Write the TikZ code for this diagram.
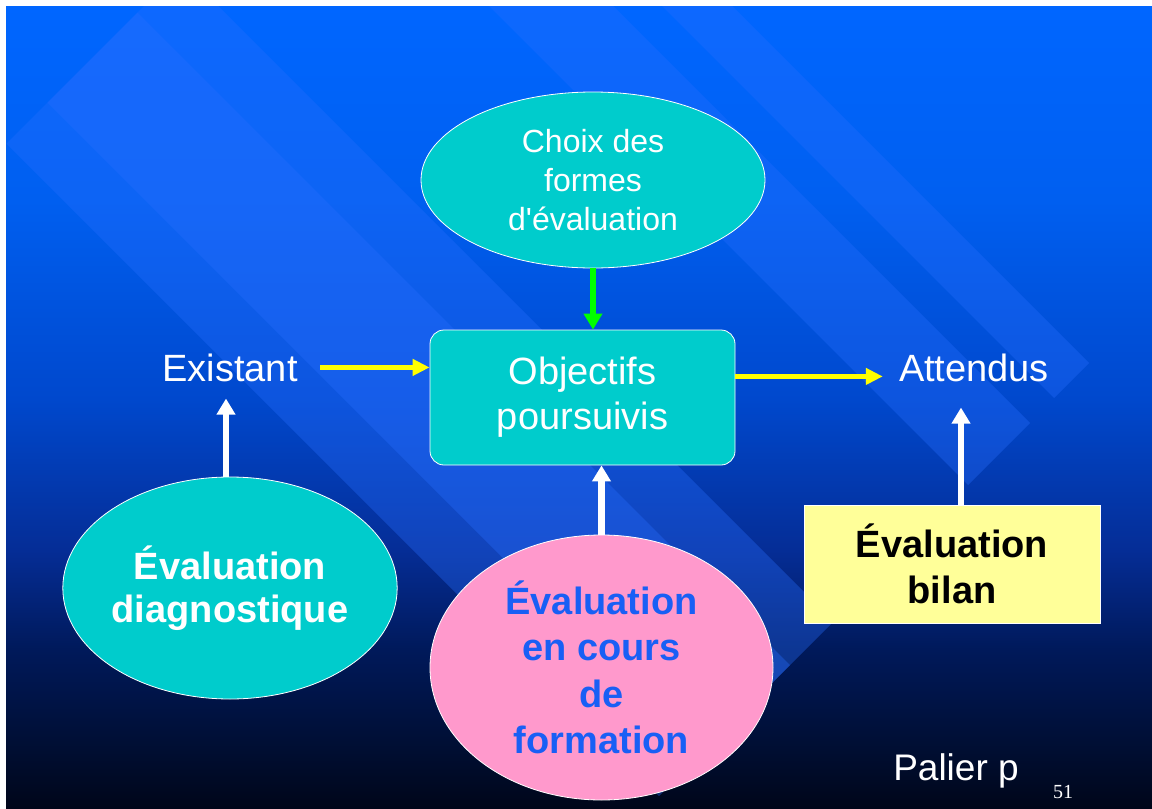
\documentclass[tikz,border=0pt]{standalone}
\usepackage{fontspec}
\setmainfont{Liberation Sans}
\newfontfamily\serifnum{Liberation Serif}
\usetikzlibrary{shapes.geometric,arrows.meta}
\definecolor{bgA}{RGB}{0,6,25}
\definecolor{bgB}{RGB}{0,14,50}
\definecolor{bgC}{RGB}{0,25,90}
\definecolor{bgD}{RGB}{5,45,150}
\definecolor{bgE}{RGB}{0,72,205}
\definecolor{bgF}{RGB}{0,95,240}
\definecolor{bgG}{RGB}{0,102,255}
\pgfdeclareverticalshading{slidebg}{100bp}{color(0bp)=(bgA); color(25bp)=(bgA); color(28.7bp)=(bgB); color(34.9bp)=(bgC); color(41.1bp)=(bgD); color(50.5bp)=(bgE); color(62.9bp)=(bgF); color(75bp)=(bgG); color(100bp)=(bgG)}
\definecolor{bandblue}{RGB}{40,110,255}
\definecolor{tealfill}{RGB}{0,204,204}
\definecolor{pinkfill}{RGB}{255,153,204}
\definecolor{paleyellow}{RGB}{255,255,153}
\definecolor{arrowyellow}{RGB}{255,255,0}
\definecolor{arrowgreen}{RGB}{0,255,0}
\definecolor{pinktext}{RGB}{25,95,245}
\tikzset{
  txt/.style={text=white, inner sep=0pt, font=\fontsize{38}{46}\selectfont},
  shapebox/.style={draw=white, line width=0.8pt, inner sep=0pt, align=center},
  tealell/.style={shapebox, ellipse, fill=tealfill},
  yarrow/.style={draw=arrowyellow, line width=5pt, -{Triangle[length=17pt,width=16pt]}},
  warrow/.style={draw=white, line width=6.5pt, -{Triangle[length=16pt,width=18pt]}},
  garrow/.style={draw=arrowgreen, line width=6pt, -{Triangle[length=16pt,width=18pt]}},
  band/.style={fill=bandblue, opacity=0.35}
}
\begin{document}
\begin{tikzpicture}[x=1pt,y=-1pt]
\useasboundingbox (0,0) rectangle (1152,809);
\fill[white] (0,0) rectangle (1152,809);
\fill[shading=slidebg] (6,6) rectangle (1152,809);
% diagonal bands, 45 degrees, all ending on the line x+y=1455
\begin{scope}
\clip (6,6) rectangle (1152,809);
\fill[band] (6.5,143.5) -- (137.5,12.5) -- (790,665) -- (659,796) -- cycle;
\fill[band] (47.5,102.5) -- (181,-31) -- (833.5,621.5) -- (700,755) -- cycle;
\fill[band] (473,-10) -- (535,-72) -- (1030,423) -- (968,485) -- cycle;
\fill[band] (646,-10) -- (681,-45) -- (1089,363) -- (1054,398) -- cycle;
\end{scope}
% nodes
\node[tealell, minimum width=344pt, minimum height=176pt, text=white,
  font=\fontsize{32}{39}\selectfont] (choix) at (593,180) {Choix des\\formes\\d\textquotesingle évaluation};
\node[shapebox, rectangle, rounded corners=14pt, fill=tealfill, minimum width=305pt,
  minimum height=135pt, text=white, font=\fontsize{38}{45}\selectfont] (obj) at (582.5,397.5) {Objectifs\\poursuivis};
\node[txt, anchor=base] (exist) at (230,381) {Existant};
\node[txt, anchor=base] (attend) at (974,381) {Attendus};
\node[tealell, minimum width=324pt, minimum height=222pt, text=white,
  font=\bfseries\fontsize{38}{43}\selectfont] (diag) at (230,588) {Évaluation\\diagnostique};
\node[shapebox, ellipse, fill=pinkfill, minimum width=343pt, minimum height=265pt,
  text=pinktext, font=\bfseries\fontsize{38}{46.5}\selectfont] (pink) at (601.5,667.5) {Évaluation\\en cours\\de\\formation};
\node[shapebox, rectangle, fill=paleyellow, minimum width=296pt, minimum height=118pt,
  text=black, font=\bfseries\fontsize{38}{46}\selectfont] (bilan) at (952,564) {Évaluation\\bilan};
\node[txt, anchor=base, font=\fontsize{37}{45}\selectfont] (palier) at (956,780) {Palier p};
\node[text=white, inner sep=0pt, anchor=base, font=\serifnum\fontsize{20}{24}\selectfont] (num) at (1063,798) {51};
% connectors
\draw[garrow] (choix.south) -- (choix.south |- obj.north);
\draw[yarrow] ([xshift=22pt]exist.east) -- (exist.east -| obj.west);
\draw[yarrow] ([yshift=-9pt]obj.east |- attend.west) -- ([xshift=-16pt,yshift=-9pt]attend.west);
\draw[warrow] ([xshift=-4pt]diag.north) -- ([xshift=-4pt,yshift=-17pt]exist.south);
\draw[warrow] (pink.north) -- (pink.north |- obj.south);
\draw[warrow] ([xshift=9pt]bilan.north) -- ([xshift=9pt,yshift=-26pt]attend.south -| bilan.north);
\end{tikzpicture}
\end{document}
